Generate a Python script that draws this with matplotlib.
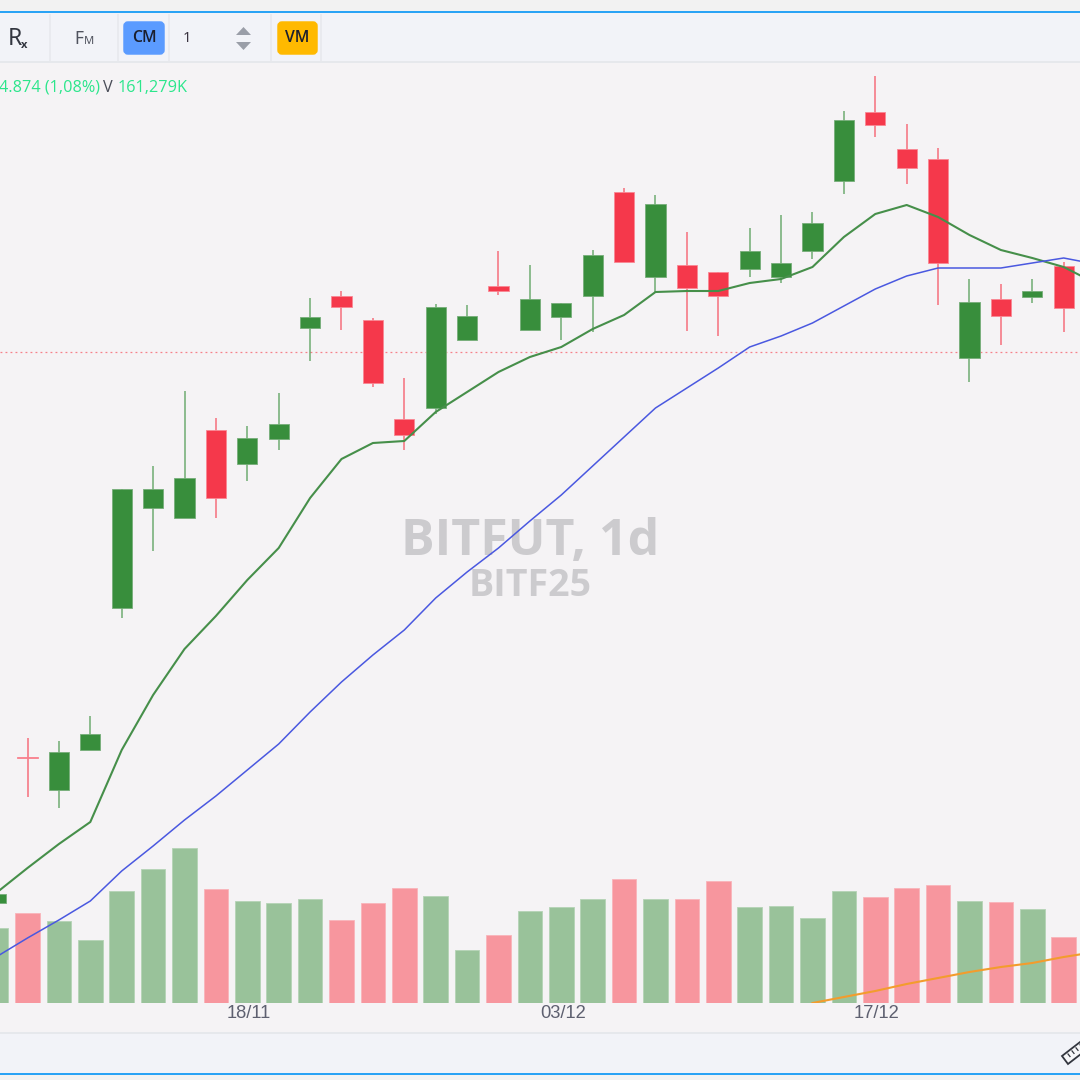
import matplotlib
matplotlib.use("Agg")
import matplotlib.pyplot as plt
from matplotlib.patches import Rectangle, FancyBboxPatch, Polygon
from matplotlib.transforms import ScaledTranslation

# values are in chart units
opens = [100, 246, 213, 253, 395, 495, 485, 573, 539, 564, 675, 707, 683, 584, 595, 663, 717, 673,
         686, 707, 811, 726, 738, 731, 734, 726, 752, 822, 891, 854, 844, 645, 704, 706, 737]
closes = [109, 245, 251, 269, 514, 514, 525, 505, 565, 579, 686, 696, 620, 568, 696, 687, 712, 704,
          700, 748, 741, 799, 715, 707, 752, 740, 780, 883, 878, 835, 740, 701, 687, 712, 695]
highs = [112, 265, 262, 287, 514, 537, 612, 585, 577, 610, 705, 712, 685, 625, 699, 698, 752, 738,
         700, 753, 815, 808, 771, 731, 775, 788, 791, 892, 927, 879, 855, 724, 719, 724, 741]
lows = [96, 206, 195, 253, 385, 452, 485, 485, 522, 553, 642, 673, 616, 553, 589, 663, 708, 673,
        663, 671, 741, 710, 672, 667, 726, 720, 744, 809, 866, 819, 698, 621, 658, 700, 671]
volumes = [75, 90, 82, 63, 112, 134, 155, 114, 102, 100, 104, 83, 100, 115, 107, 53, 68, 92,
           96, 104, 124, 104, 104, 122, 96, 97, 85, 112, 106, 115, 118, 102, 101, 94, 66]
ma_fast = [110, 135, 159, 181, 253, 308, 354, 387, 423, 455, 505, 544, 560, 562, 591, 611, 631, 646,
           656, 674, 688, 711, 712, 712, 720, 724, 736, 766, 789, 798, 786, 768, 753, 745, 736, 720]
ma_slow = [46, 65, 83, 102, 132, 157, 183, 207, 233, 259, 291, 321, 348, 373, 405, 431, 455, 482,
           508, 537, 566, 595, 615, 635, 656, 667, 680, 697, 714, 727, 735, 735, 735, 740, 745, 739]
ma_volume = [0, 6, 12, 19, 25, 31, 36, 40, 46, 51]
ma_volume_start = 26
tick_pos = [8, 18, 28]
tick_labels = ["18/11", "03/12", "17/12"]
last_line = 651

GREEN = "#388e3c"
RED = "#f5384b"
BG = "#f5f3f5"

fig = plt.figure(figsize=(10.8, 10.8), dpi=100, facecolor=BG)
rect = [0, 77 / 1080, 1, 941 / 1080]

# volume + watermark sit under the price panel
vol_ax = fig.add_axes(rect, zorder=1)
ax = fig.add_axes(rect, zorder=2)
ax.patch.set_visible(False)
vol_ax.patch.set_facecolor(BG)

x = list(range(len(opens)))
is_up = [c >= o for o, c in zip(opens, closes)]

vol_colors = ["#99c29a" if u else "#f7969e" for u in is_up]
vol_edges = ["#b5d3b6" if u else "#f9b4ba" for u in is_up]
vol_ax.bar(x, volumes, width=0.78, color=vol_colors, edgecolor=vol_edges, linewidth=0.6)
vol_ax.plot(range(ma_volume_start, ma_volume_start + len(ma_volume)), ma_volume, color="#f39c2d", lw=1.5)
vol_ax.text(0.491, 0.4895, "BITFUT, 1d", transform=vol_ax.transAxes, ha="center", va="center",
            fontsize=36, fontweight="bold", family="Open Sans", color="#cccbce")
vol_ax.text(0.491, 0.443, "BITF25", transform=vol_ax.transAxes, ha="center", va="center",
            fontsize=27, fontweight="bold", family="Open Sans", color="#cccbce")

ax.axhline(last_line, color="#f5818a", lw=0.9, ls=(0, (1.5, 2.5)))

for i in x:
    col = GREEN if is_up[i] else RED
    ax.vlines(i, lows[i], highs[i], color=col, lw=1.2, alpha=0.65, zorder=2)
    bottom = min(opens[i], closes[i])
    height = max(abs(closes[i] - opens[i]), 1)
    ax.bar(i, height, bottom=bottom, width=0.64, color=col, lw=0.6,
           edgecolor="#76ae79" if is_up[i] else "#f98794", zorder=3)

ax.plot(range(len(ma_fast)), ma_fast, color="#468f4a", lw=1.5, zorder=4)
ax.plot(range(len(ma_slow)), ma_slow, color="#4a58e0", lw=1.1, zorder=4)

for a in (ax, vol_ax):
    a.set_xlim(0.124, 34.52)
    a.set_ylim(0, 941)
    a.set_yticks([])
    for s in a.spines.values():
        s.set_visible(False)
vol_ax.set_xticks([])
ax.set_xticks(tick_pos)
ax.set_xticklabels(tick_labels, fontsize=13.2, family="Liberation Sans", color="#5e6070")
ax.tick_params(axis="x", length=0, pad=1.5)
nudge = ScaledTranslation(1.5 / 100, 0, fig.dpi_scale_trans)
for lab in ax.get_xticklabels():
    lab.set_transform(lab.get_transform() + nudge)

# toolbar and window frame, pixel coordinates
ui = fig.add_axes([0, 0, 1, 1], zorder=3)
ui.set_xlim(0, 1080)
ui.set_ylim(1080, 0)
ui.axis("off")

def box(x0, y0, w, h, color):
    ui.add_patch(Rectangle((x0, y0), w, h, facecolor=color, edgecolor="none"))

box(0, 0, 1080, 12, "#f2f2f2")
box(0, 1075, 1080, 5, "#f2f2f2")
box(0, 13, 1080, 48, "#f2f3f8")
box(0, 1033, 1080, 41, "#f2f3f8")
box(0, 61, 1080, 2, "#e6e8ec")
box(0, 1032, 1080, 2, "#e6e8ec")
box(0, 11, 1080, 2, "#2aa3f5")
box(0, 1073, 1080, 2, "#2aa3f5")
for sx in [50, 118, 169, 271, 321]:
    box(sx - 1, 14, 2, 47, "#e9eaef")

def button(x0, w, color, label):
    ui.add_patch(FancyBboxPatch((x0 + 2, 23), w - 4, 30, boxstyle="round,pad=0,rounding_size=3",
                                mutation_aspect=1, facecolor=color, edgecolor=color, lw=2.5))
    ui.text(x0 + w / 2, 38.5, label, ha="center", va="center", fontsize=11.3, family="Open Sans",
            color="#1b1f2e", fontweight="semibold")

button(123, 42, "#5b9bff", "CM")
button(277, 41, "#ffb900", "VM")

ui.text(8, 39, "R", ha="left", va="center", fontsize=16.5, family="Noto Sans", color="#333640")
ui.text(21, 45.5, "x", ha="left", va="center", fontsize=8, family="Open Sans", fontweight="bold", color="#333640")
ui.text(74, 39, "F", ha="left", va="center", fontsize=12.5, family="Noto Sans", color="#50535e")
ui.text(84, 41, "M", ha="left", va="center", fontsize=8, family="Noto Sans", color="#50535e")
ui.text(182.5, 38.5, "1", ha="left", va="center", fontsize=10.5, family="Noto Sans", color="#3a3340")
ui.add_patch(Polygon([[236, 35], [251, 35], [243.5, 27]], facecolor="#9a9ea8", edgecolor="none"))
ui.add_patch(Polygon([[236, 42], [251, 42], [243.5, 50]], facecolor="#9a9ea8", edgecolor="none"))

# legend row
ui.text(-1, 88, "4.874 (1,08%)", ha="left", va="center", fontsize=11.7, family="Open Sans",
        fontweight="medium", color="#2ce68c")
ui.text(103, 88, "V", ha="left", va="center", fontsize=11.7, family="Open Sans", fontweight="medium", color="#4a4d58")
ui.text(118, 88, "161,279K", ha="left", va="center", fontsize=11.7, family="Open Sans",
        fontweight="medium", color="#2ce68c")

# ruler icon, cut by the right edge
ui.add_patch(Polygon([[1062, 1056], [1084, 1039], [1090, 1047], [1068, 1064]],
                     facecolor="#f7f7f9", edgecolor="#33363f", lw=1.3))
for t in [1068, 1072, 1076, 1080]:
    ui.plot([t, t + 2], [1054 - (t - 1068) * 0.77, 1056.5 - (t - 1068) * 0.77], color="#33363f", lw=0.9)

fig.savefig("out.png", dpi=100, facecolor=BG)
